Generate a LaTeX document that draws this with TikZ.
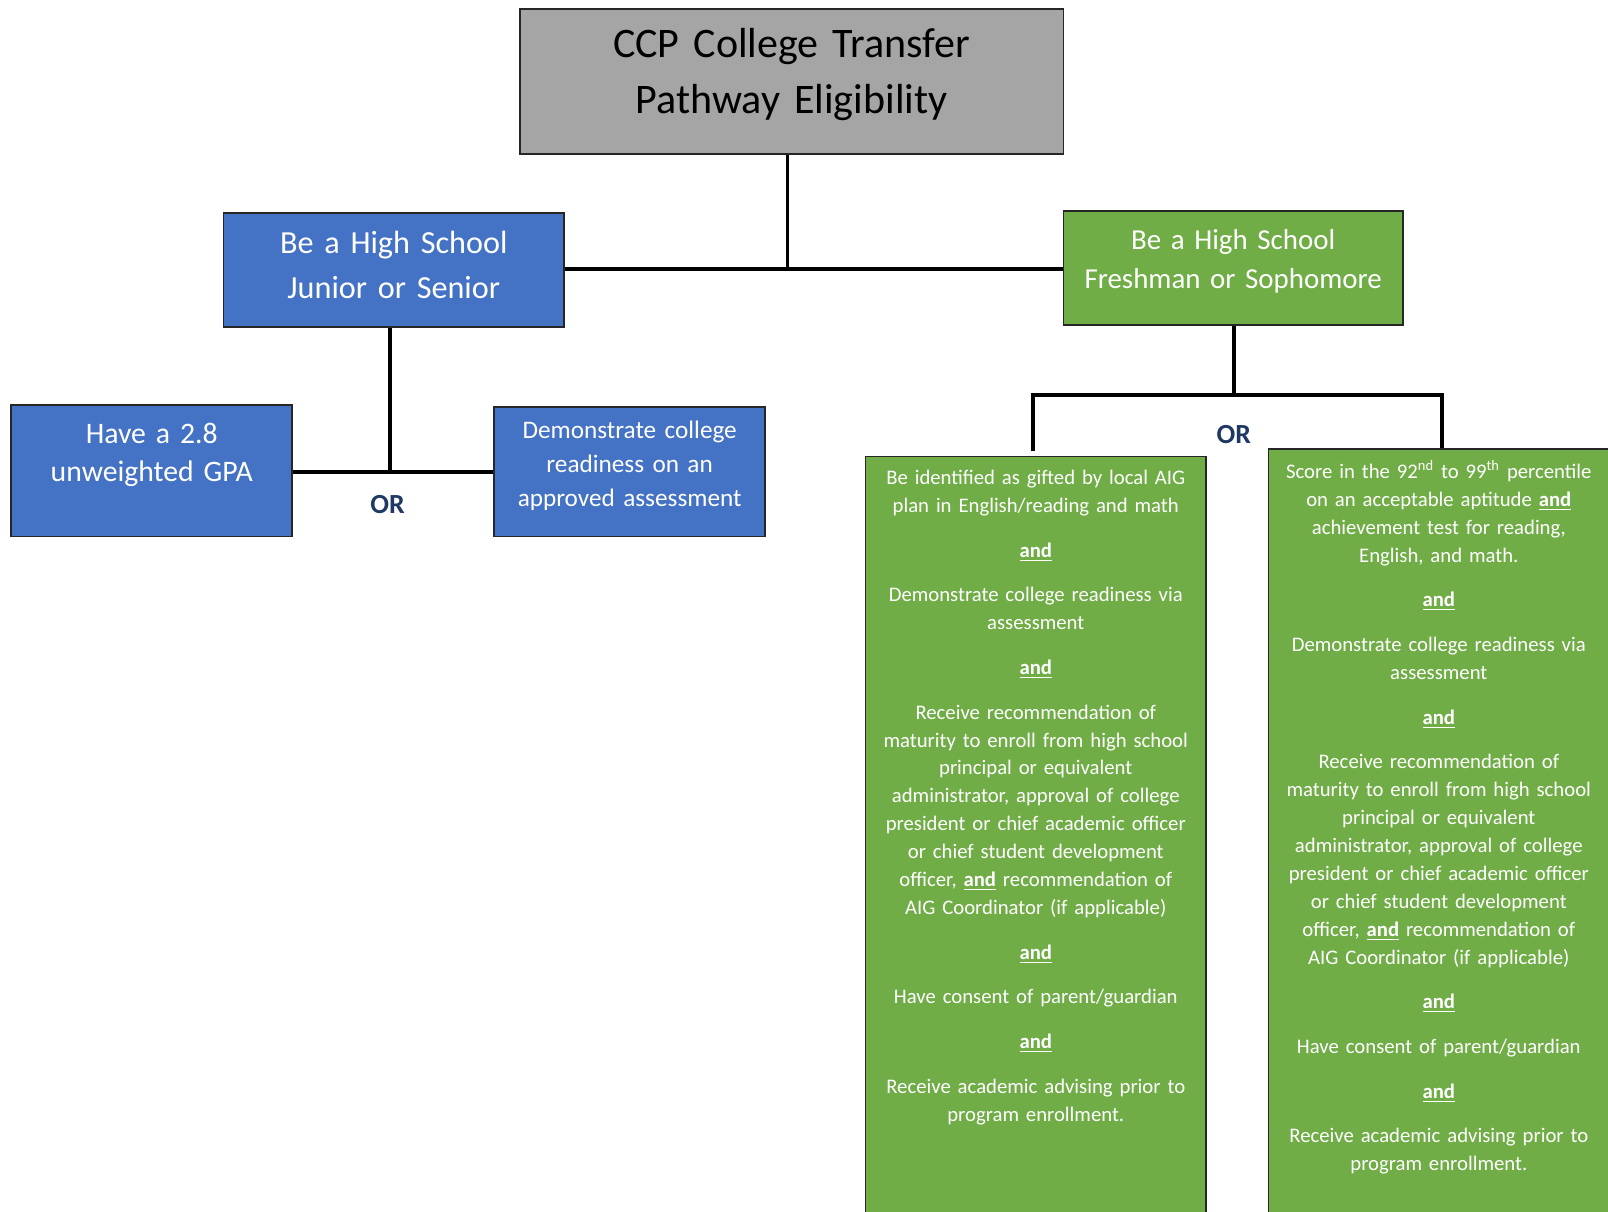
\documentclass[tikz,border=0pt]{standalone}
\usepackage{fontspec}
\setmainfont{Carlito}
\definecolor{boxgray}{HTML}{A5A5A5}
\definecolor{boxblue}{HTML}{4472C4}
\definecolor{boxgreen}{HTML}{70AD47}
\definecolor{orblue}{HTML}{1F3864}
\definecolor{edge}{HTML}{262626}
\newcommand\undand{\textbf{\underline{and}}}
\tikzset{
  box/.style={draw=edge, line width=0.8pt, inner sep=0pt, rectangle},
  txt/.style={inner sep=0pt, align=center, anchor=base},
  conn/.style={draw=black, line width=1.8pt},
  orlab/.style={inner sep=0pt, anchor=base, text=orblue, font=\fontsize{13.5}{15}\selectfont\bfseries}
}
\begin{document}
\begin{tikzpicture}[x=0.5pt,y=-0.5pt]
\useasboundingbox (0,0) rectangle (1568,1181);
% boxes
\node[box, fill=boxgray, minimum width=265pt, minimum height=70.5pt] (top) at (772,79.5) {};
\node[box, fill=boxblue, minimum width=166pt, minimum height=55.5pt] (js) at (384,263.5) {};
\node[box, fill=boxgreen, minimum width=165.5pt, minimum height=55.5pt] (fs) at (1202.5,261.5) {};
\node[box, fill=boxblue, minimum width=137pt, minimum height=64pt] (gpa) at (148,459) {};
\node[box, fill=boxblue, minimum width=132pt, minimum height=63pt] (demo) at (614,460) {};
\node[box, fill=boxgreen, minimum width=166pt, minimum height=372.5pt] (tl) at (1010,817.5) {};
\node[box, fill=boxgreen, minimum width=181.5pt, minimum height=376pt] (tr) at (1418.5,814) {};
% texts
\node[txt, text width=262pt, font=\fontsize{20.5}{27}\selectfont] (topt) at (772,56.5) {CCP College Transfer\\Pathway Eligibility};
\node[txt, text width=164pt, text=white, font=\fontsize{15.7}{22}\selectfont] (jst) at (384,247.5) {Be a High School\\Junior or Senior};
\node[txt, text width=164pt, text=white, font=\fontsize{14.1}{19}\selectfont] (fst) at (1202.5,243) {Be a High School\\Freshman or Sophomore};
\node[txt, text width=135pt, text=white, font=\fontsize{14.5}{19}\selectfont] (gpat) at (148,432) {Have a 2.8\\unweighted GPA};
\node[txt, text width=130pt, text=white, font=\fontsize{12.3}{16.5}\selectfont] (demot) at (614,428) {Demonstrate college\\readiness on an\\approved assessment};
\node[txt, text width=165pt, text=white, font=\fontsize{10.1}{13.6}\selectfont] (tlt) at (1010,472.5) {Be identified as gifted by local AIG\\plan in English/reading and math\\[8.2pt]
\undand\\[8.2pt]
Demonstrate college readiness via\\assessment\\[8.2pt]
\undand\\[8.2pt]
Receive recommendation of\\maturity to enroll from high school\\principal or equivalent\\administrator, approval of college\\president or chief academic officer\\or chief student development\\officer, \undand{} recommendation of\\AIG Coordinator (if applicable)\\[8.2pt]
\undand\\[8.2pt]
Have consent of parent/guardian\\[8.2pt]
\undand\\[8.2pt]
Receive academic advising prior to\\program enrollment.};
\node[txt, text width=165pt, text=white, font=\fontsize{10.1}{13.6}\selectfont] (trt) at (1403,466.5) {Score in the 92\textsuperscript{nd} to 99\textsuperscript{th} percentile\\on an acceptable aptitude \undand\\achievement test for reading,\\English, and math.\\[8.2pt]
\undand\\[8.2pt]
Demonstrate college readiness via\\assessment\\[8.2pt]
\undand\\[8.2pt]
Receive recommendation of\\maturity to enroll from high school\\principal or equivalent\\administrator, approval of college\\president or chief academic officer\\or chief student development\\officer, \undand{} recommendation of\\AIG Coordinator (if applicable)\\[8.2pt]
\undand\\[8.2pt]
Have consent of parent/guardian\\[8.2pt]
\undand\\[8.2pt]
Receive academic advising prior to\\program enrollment.};
% OR labels
\node[orlab] (or1) at (378,500.5) {OR};
\node[orlab] (or2) at (1203,432) {OR};
% connectors
\coordinate (j1) at (768,262);
\coordinate (j2) at (380,460);
\coordinate (j3) at (1203,385);
\coordinate (j3l) at (1007,385);
\coordinate (j3r) at (1406,385);
\draw[conn] (top.south -| j1) -- (j1);
\draw[conn] (js.east |- j1) -- (fs.west |- j1);
\draw[conn] (js.south -| j2) -- (j2);
\draw[conn] (gpa.east |- j2) -- (demo.west |- j2);
\draw[conn] (fs.south -| j3) -- (j3);
\draw[conn] ([yshift=2pt]tl.north -| j3l) -- (j3l) -- (j3r) -- (tr.north -| j3r);
\end{tikzpicture}
\end{document}
